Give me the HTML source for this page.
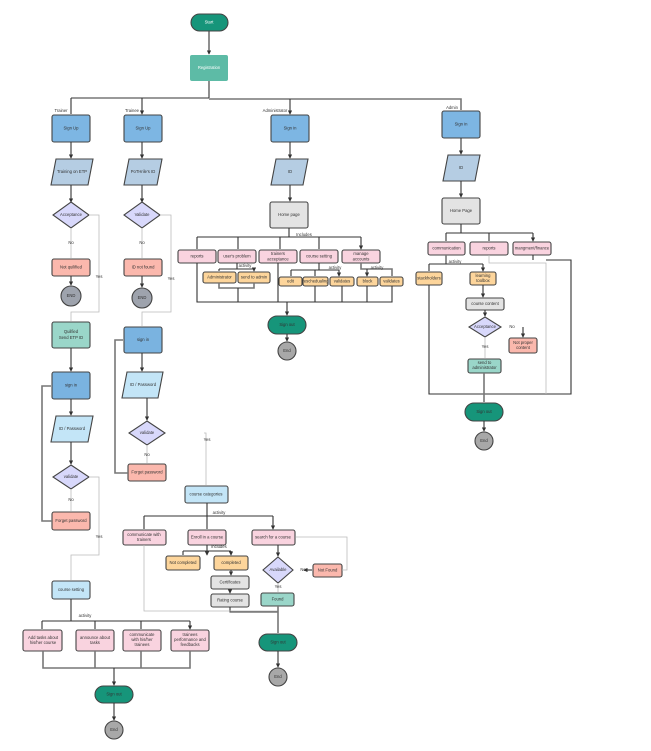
<!DOCTYPE html>
<html><head><meta charset="utf-8"><style>
html,body{margin:0;padding:0;background:#fff;}
svg{display:block}
text{font-family:"Liberation Sans",sans-serif;font-size:4.2px;fill:#333;text-anchor:middle;dominant-baseline:middle}
.w{fill:#fff}
.b{stroke:#444;stroke-width:1.1;}
.l{fill:none;stroke:#333;stroke-width:1.1}
.g{fill:none;stroke:#bbb;stroke-width:0.8}
.k{fill:none;stroke:#777;stroke-width:1.6}
</style></head><body>
<svg width="651" height="751" viewBox="0 0 651 751" xmlns="http://www.w3.org/2000/svg">
<defs><marker id="a" viewBox="0 0 6 6" refX="5" refY="3" markerWidth="4" markerHeight="4" orient="auto"><path d="M0,0L6,3L0,6z" fill="#333"/></marker></defs>

<!-- top -->
<path class="l" d="M209,31V54" marker-end="url(#a)"/>
<path class="l" d="M209,81V98M71,98H209M71,98V114M142,98V114" marker-end="url(#a)"/>
<path class="k" d="M209,99H461V110"/>
<path class="l" d="M290,99V114" marker-end="url(#a)"/>
<rect x="191" y="14" width="37" height="17" rx="8.5" fill="#16957a" class="b"/><text x="209" y="22.5" class="w">Start</text>
<rect x="190" y="55" width="38" height="26" rx="2" fill="#5dbba6"/><text x="209" y="68" class="w">Registration</text>
<text x="61" y="111">Trainer</text><text x="132" y="111">Trainee</text><text x="275" y="111">Administrator</text><text x="452" y="108">Admin</text>

<!-- col1 -->
<rect x="52" y="115" width="38" height="27" rx="2" fill="#7db6e3" class="b"/><text x="71" y="128.5">Sign Up</text>
<path class="l" d="M71,142V158" marker-end="url(#a)"/>
<polygon points="56,159 93,159 88,185 51,185" fill="#b5cde3" class="b"/><text x="72" y="172">Training on ETP</text>
<path class="l" d="M71,185V202" marker-end="url(#a)"/>
<polygon points="71,202 89,215 71,228 53,215" fill="#d8d8fb" class="b"/><text x="71" y="215">Acceptance</text>
<path class="g" d="M71,228V258"/><text x="71" y="243">No</text>
<rect x="52" y="259" width="38" height="17" rx="2" fill="#fbb8ad" class="b"/><text x="71" y="267.5">Not quilified</text>
<path class="l" d="M71,276V285" marker-end="url(#a)"/>
<circle cx="71" cy="296" r="10" fill="#9ea3ad" class="b"/><text x="71" y="296">END</text>
<path class="g" d="M89,215H99V312H71V321"/><text x="99" y="277">Yes</text>
<rect x="52" y="322" width="38" height="26" rx="2" fill="#9ad6c9" class="b"/><text x="71" y="332">Quilfied</text><text x="71" y="338">Send ETP ID</text>
<path class="l" d="M71,348V371" marker-end="url(#a)"/>
<rect x="52" y="372" width="38" height="27" rx="2" fill="#7ab3e0" class="b"/><text x="71" y="385.5">sign in</text>
<path class="l" d="M71,399V415" marker-end="url(#a)"/>
<polygon points="56,416 93,416 88,442 51,442" fill="#c3e5f7" class="b"/><text x="72" y="429">ID / Password</text>
<path class="l" d="M71,442V464" marker-end="url(#a)"/>
<polygon points="71,465 89,477 71,489 53,477" fill="#d8d8fb" class="b"/><text x="71" y="477">validate</text>
<path class="g" d="M71,489V511"/><text x="71" y="500">No</text>
<rect x="52" y="512" width="38" height="18" rx="2" fill="#fbb8ad" class="b"/><text x="71" y="521">Forget password</text>
<path class="k" d="M52,521H42V386H51"/>
<path class="g" d="M89,477H99V555H71V580"/><text x="99" y="537">Yes</text>
<rect x="52" y="581" width="38" height="18" rx="2" fill="#c3e5f7" class="b"/><text x="71" y="590">course setting</text>
<path class="l" d="M71,599V621"/><text x="85" y="616">activity</text>
<path class="l" d="M42,621H190M42,621V629M95,621V629M141,621V629M190,621V629" marker-end="url(#a)"/>
<rect x="23" y="630" width="39" height="21" rx="2" fill="#f9d3df" class="b"/><text x="43" y="638">Add tasks about</text><text x="43" y="643">his/her course</text>
<rect x="76" y="630" width="38" height="21" rx="2" fill="#f9d3df" class="b"/><text x="95" y="638">announce about</text><text x="95" y="643">tasks</text>
<rect x="123" y="630" width="38" height="21" rx="2" fill="#f9d3df" class="b"/><text x="142" y="635">communicate</text><text x="142" y="640">with his/her</text><text x="142" y="645">trainees</text>
<rect x="171" y="630" width="38" height="21" rx="2" fill="#f9d3df" class="b"/><text x="190" y="635">trainees</text><text x="190" y="640">performance and</text><text x="190" y="645">feedbacks</text>
<path class="k" d="M43,651V668H190V651M95,651V668M141,651V668"/>
<path class="l" d="M114,668V685" marker-end="url(#a)"/>
<rect x="95" y="686" width="38" height="17" rx="8.5" fill="#16957a" class="b"/><text x="114" y="694.5">Sign out</text>
<path class="l" d="M114,703V720" marker-end="url(#a)"/>
<circle cx="114" cy="730" r="9" fill="#a8a8a8" class="b"/><text x="114" y="730">End</text>

<!-- col2 -->
<rect x="124" y="115" width="38" height="27" rx="2" fill="#7db6e3" class="b"/><text x="143" y="128.5">Sign Up</text>
<path class="l" d="M142,142V158" marker-end="url(#a)"/>
<polygon points="129,159 162,159 157,185 124,185" fill="#b5cde3" class="b"/><text x="143" y="172">PoTHrile's ID</text>
<path class="l" d="M142,185V202" marker-end="url(#a)"/>
<polygon points="142,202 160,215 142,228 124,215" fill="#d8d8fb" class="b"/><text x="142" y="215">Validate</text>
<path class="g" d="M142,228V258"/><text x="142" y="243">No</text>
<rect x="124" y="259" width="38" height="17" rx="2" fill="#fbb8ad" class="b"/><text x="143" y="267.5">ID not found</text>
<path class="l" d="M142,276V287" marker-end="url(#a)"/>
<circle cx="142" cy="298" r="10" fill="#9ea3ad" class="b"/><text x="142" y="298">END</text>
<path class="g" d="M160,215H171V312H142V326"/><text x="171" y="279">Yes</text>
<rect x="124" y="327" width="38" height="26" rx="2" fill="#7ab3e0" class="b"/><text x="143" y="340">sign in</text>
<path class="l" d="M142,353V371" marker-end="url(#a)"/>
<polygon points="127,372 163,372 158,398 122,398" fill="#c3e5f7" class="b"/><text x="143" y="385">ID / Password</text>
<path class="l" d="M147,398V420" marker-end="url(#a)"/>
<polygon points="147,421 165,433 147,445 129,433" fill="#d8d8fb" class="b"/><text x="147" y="433">validate</text>
<path class="g" d="M147,445V463"/><text x="147" y="455">No</text>
<rect x="128" y="464" width="38" height="17" rx="2" fill="#fbb8ad" class="b"/><text x="147" y="472.5">Forget password</text>
<path class="k" d="M128,473H115V340H123"/>
<path class="g" d="M204,433H206V485"/><text x="207" y="440">Yes</text>
<rect x="185" y="486" width="43" height="17" rx="2" fill="#c3e5f7" class="b"/><text x="206" y="494.5">course categories</text>
<path class="l" d="M207,503V516"/><text x="219" y="513">activity</text>
<path class="l" d="M144,516H273M144,516V529M207,516V529M273,516V529" marker-end="url(#a)"/>
<rect x="123" y="530" width="43" height="15" rx="2" fill="#f9d3df" class="b"/><text x="144" y="535">communicate with</text><text x="144" y="540">trainers</text>
<rect x="188" y="530" width="38" height="15" rx="2" fill="#f9d3df" class="b"/><text x="207" y="537.5">Enroll in a course</text>
<rect x="252" y="530" width="43" height="15" rx="2" fill="#f9d3df" class="b"/><text x="273" y="537.5">search for a course</text>
<path class="l" d="M207,545V555" marker-end="url(#a)"/><text x="219" y="547">includes</text>
<path class="l" d="M183,551H231M183,551V555M231,551V555" marker-end="url(#a)"/>
<rect x="166" y="556" width="34" height="14" rx="2" fill="#fdd59b" class="b"/><text x="183" y="563">Not completed</text>
<rect x="214" y="556" width="34" height="14" rx="2" fill="#fdd59b" class="b"/><text x="231" y="563">completed</text>
<path class="l" d="M231,570V575" marker-end="url(#a)"/>
<rect x="211" y="576" width="38" height="13" rx="2" fill="#e3e3e3" class="b"/><text x="230" y="582.5">Certificates</text>
<path class="l" d="M230,589V593" marker-end="url(#a)"/>
<rect x="211" y="594" width="38" height="13" rx="2" fill="#e3e3e3" class="b"/><text x="230" y="600.5">Rating course</text>
<path class="l" d="M230,607V612H278"/>
<path class="g" d="M144,545V611H278"/>
<path class="l" d="M278,545V556" marker-end="url(#a)"/>
<polygon points="278,557 293,570 278,583 263,570" fill="#d8d8fb" class="b"/><text x="278" y="570">Available</text>
<path class="l" d="M312,570H304" marker-end="url(#a)"/><text x="303" y="570">No</text>
<rect x="313" y="564" width="29" height="13" rx="2" fill="#fbb8ad" class="b"/><text x="327.5" y="570.5">Not Found</text>
<path class="g" d="M342,570H347V537H296"/>
<path class="g" d="M278,583V592"/><text x="278" y="587">Yes</text>
<rect x="261" y="593" width="33" height="13" rx="2" fill="#9ad6c9" class="b"/><text x="277.5" y="599.5">Found</text>
<path class="k" d="M278,606V633"/>
<rect x="259" y="634" width="38" height="17" rx="8.5" fill="#16957a" class="b"/><text x="278" y="642.5">Sign out</text>
<path class="l" d="M278,651V667" marker-end="url(#a)"/>
<circle cx="278" cy="677" r="9" fill="#a8a8a8" class="b"/><text x="278" y="677">End</text>

<!-- admin col -->
<rect x="271" y="115" width="38" height="27" rx="2" fill="#7db6e3" class="b"/><text x="290" y="128.5">Sign in</text>
<path class="l" d="M290,142V158" marker-end="url(#a)"/>
<polygon points="276,159 308,159 303,185 271,185" fill="#b5cde3" class="b"/><text x="290" y="172">ID</text>
<path class="l" d="M290,185V201" marker-end="url(#a)"/>
<rect x="270" y="202" width="38" height="26" rx="2" fill="#e3e3e3" class="b"/><text x="289" y="215">Home page</text>
<path class="l" d="M289,228V237"/><text x="304" y="235">Includes</text>
<path class="l" d="M197,237H361M197,237V249M238,237V249M280,237V249M319,237V249M361,237V249" marker-end="url(#a)"/>
<rect x="178" y="250" width="38" height="13" rx="2" fill="#f9d3df" class="b"/><text x="197" y="256.5">reports</text>
<rect x="218" y="250" width="38" height="13" rx="2" fill="#f9d3df" class="b"/><text x="237" y="256.5">user's problem</text>
<rect x="259" y="250" width="38" height="13" rx="2" fill="#f9d3df" class="b"/><text x="278" y="254">trainers</text><text x="278" y="259.5">acceptance</text>
<rect x="300" y="250" width="38" height="13" rx="2" fill="#f9d3df" class="b"/><text x="319" y="256.5">course setting</text>
<rect x="342" y="250" width="38" height="13" rx="2" fill="#f9d3df" class="b"/><text x="361" y="254">manage</text><text x="361" y="259.5">accounts</text>
<path class="l" d="M237,263V269"/><text x="245" y="266">activity</text>
<path class="l" d="M219,269H254M219,269V271M254,269V271" marker-end="url(#a)"/>
<rect x="203" y="272" width="33" height="11" rx="2" fill="#fdd59b" class="b"/><text x="219.5" y="277.5">Administrator</text>
<rect x="238" y="272" width="32" height="11" rx="2" fill="#fdd59b" class="b"/><text x="254" y="277.5">send to admin</text>
<path class="k" d="M219,283V288H254V283"/>
<path class="l" d="M319,263V270"/><text x="335" y="268">activity</text>
<path class="l" d="M291,270H339M291,270V276M315,270V276M339,270V276" marker-end="url(#a)"/>
<rect x="279" y="277" width="23" height="9" rx="2" fill="#fdd59b" class="b"/><text x="290.5" y="281.5">edit</text>
<rect x="303" y="277" width="25" height="9" rx="2" fill="#fdd59b" class="b"/><text x="315.5" y="281.5">reschedualing</text>
<rect x="330" y="277" width="24" height="9" rx="2" fill="#fdd59b" class="b"/><text x="342" y="281.5">validates</text>
<path class="k" d="M361,263V269H392V276"/><text x="377" y="268">activity</text>
<path class="l" d="M367,269V276" marker-end="url(#a)"/>
<rect x="357" y="277" width="21" height="9" rx="2" fill="#fdd59b" class="b"/><text x="367.5" y="281.5">block</text>
<rect x="380" y="277" width="23" height="9" rx="2" fill="#fdd59b" class="b"/><text x="391.5" y="281.5">validates</text>
<path class="l" d="M197,263V302H392V286M238,288V302M278,263V302M315,286V302M342,286V302M367,286V302"/>
<path class="l" d="M287,302V315" marker-end="url(#a)"/>
<rect x="268" y="316" width="38" height="18" rx="9" fill="#16957a" class="b"/><text x="287" y="325">Sign out</text>
<path class="l" d="M287,334V341" marker-end="url(#a)"/>
<circle cx="287" cy="351" r="9" fill="#a8a8a8" class="b"/><text x="287" y="351">End</text>

<!-- right admin -->
<rect x="442" y="111" width="38" height="27" rx="2" fill="#7db6e3" class="b"/><text x="461" y="124.5">Sign in</text>
<path class="l" d="M461,138V154" marker-end="url(#a)"/>
<polygon points="448,155 480,155 475,181 443,181" fill="#b5cde3" class="b"/><text x="461" y="168">ID</text>
<path class="l" d="M461,181V197" marker-end="url(#a)"/>
<rect x="442" y="198" width="38" height="26" rx="2" fill="#e3e3e3" class="b"/><text x="461" y="211">Home Page</text>
<path class="l" d="M461,224V233M446,233H533M446,233V241M489,233V241M533,233V241" marker-end="url(#a)"/>
<rect x="428" y="242" width="37" height="13" rx="2" fill="#f9d3df" class="b"/><text x="446.5" y="248.5">communication</text>
<rect x="470" y="242" width="38" height="13" rx="2" fill="#f9d3df" class="b"/><text x="489" y="248.5">reports</text>
<rect x="513" y="242" width="38" height="13" rx="2" fill="#f9d3df" class="b"/><text x="532" y="248.5">mangment/finance</text>
<path class="k" d="M446,255V264"/><text x="455" y="262">activity</text>
<path class="l" d="M429,264H483M429,264V271M483,264V271" marker-end="url(#a)"/>
<rect x="416" y="272" width="26" height="13" rx="2" fill="#fdd59b" class="b"/><text x="429" y="278.5">stackholders</text>
<rect x="470" y="272" width="26" height="13" rx="2" fill="#fdd59b" class="b"/><text x="483" y="276">learning</text><text x="483" y="281">toolbox</text>
<path class="l" d="M483,285V297" marker-end="url(#a)"/>
<rect x="466" y="298" width="38" height="12" rx="2" fill="#e3e3e3" class="b"/><text x="485" y="304">course content</text>
<path class="l" d="M485,310V316" marker-end="url(#a)"/>
<polygon points="485,317 501,327 485,337 469,327" fill="#d8d8fb" class="b"/><text x="485" y="327">Acceptance</text>
<text x="512" y="327">No</text>
<path class="l" d="M523,327V337" marker-end="url(#a)"/>
<rect x="509" y="338" width="28" height="15" rx="2" fill="#fbb8ad" class="b"/><text x="523" y="343">Not proper</text><text x="523" y="348">content</text>
<path class="g" d="M485,337V358"/><text x="485" y="347">Yes</text>
<rect x="468" y="359" width="33" height="14" rx="2" fill="#9ad6c9" class="b"/><text x="484.5" y="363">send to</text><text x="484.5" y="368">administrator</text>
<path class="l" d="M429,285V394H571V260H546M533,255V260"/>
<path class="g" d="M489,255V263H546V394"/>
<path class="k" d="M484,373V402"/>
<rect x="465" y="403" width="38" height="18" rx="9" fill="#16957a" class="b"/><text x="484" y="412">Sign out</text>
<path class="l" d="M484,421V431" marker-end="url(#a)"/>
<circle cx="484" cy="441" r="9" fill="#a8a8a8" class="b"/><text x="484" y="441">End</text>
</svg>
</body></html>
